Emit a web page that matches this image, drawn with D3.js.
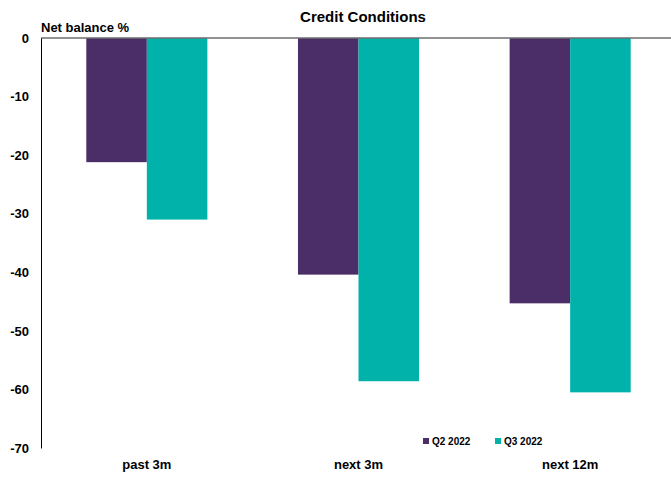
<!DOCTYPE html>
<html><head><meta charset="utf-8">
<script src="https://cdn.jsdelivr.net/npm/d3@7"></script>
<style>body{margin:0;background:#fff}svg{display:block;font-family:"Liberation Sans",Arial,sans-serif}</style>
</head><body><svg id="c" width="671" height="477"></svg>
<script>
const categories = ["past 3m", "next 3m", "next 12m"];
const seriesNames = ["Q2 2022", "Q3 2022"];
const q2Values = [-21.2, -40.4, -45.3];
const q3Values = [-31.0, -58.6, -60.5];
const yTicks = [0, -10, -20, -30, -40, -50, -60, -70];
const colors = ["#4B2E67", "#00B2AA"];

const svg = d3.select("#c");
const x0 = d3.scaleBand().domain(categories).range([41, 676]).paddingInner(0).paddingOuter(0);
const x1 = d3.scaleBand().domain(seriesNames).range([x0.bandwidth()*0.214, x0.bandwidth()*0.786]).padding(0);
const y = d3.scaleLinear().domain([-70, 0]).range([448, 38]);

const data = categories.map((c, i) => ({cat: c, vals: [q2Values[i], q3Values[i]]}));

const g = svg.append("g");
g.selectAll("g.grp").data(data).join("g").attr("class","grp")
  .attr("transform", d => `translate(${x0(d.cat)},0)`)
  .selectAll("rect").data(d => d.vals.map((v, j) => ({s: seriesNames[j], v, j})))
  .join("rect")
  .attr("x", d => x1(d.s)).attr("width", x1.bandwidth())
  .attr("y", y(0)).attr("height", d => y(d.v) - y(0))
  .attr("fill", d => colors[d.j]);

// zero line
svg.append("line").attr("x1", 41).attr("x2", 671).attr("y1", y(0)).attr("y2", y(0))
  .attr("stroke", "#6e6e6e").attr("stroke-width", 1.5);

// y axis
const yAxis = d3.axisLeft(y).tickValues(yTicks).tickSize(0).tickPadding(12).tickFormat(d => String(d));
const ya = svg.append("g").attr("transform", "translate(41,0)").call(yAxis);
ya.select(".domain").attr("stroke", "#000").attr("stroke-width", 1);
ya.selectAll("text").attr("font-size", 13).attr("font-weight", "bold").attr("fill", "#000")
  .attr("font-family", "Liberation Sans, Arial, sans-serif");

// x axis labels
const xAxis = d3.axisBottom(x0).tickSize(0).tickPadding(12);
const xa = svg.append("g").attr("transform", "translate(0,448)").call(xAxis);
xa.select(".domain").remove();
xa.selectAll("text").attr("font-size", 13).attr("font-weight", "bold").attr("fill", "#000")
  .attr("font-family", "Liberation Sans, Arial, sans-serif");

// title
svg.append("text").attr("x", 363).attr("y", 22).attr("text-anchor", "middle")
  .attr("font-size", 15).attr("font-weight", "bold").text("Credit Conditions");
svg.append("text").attr("x", 41).attr("y", 32)
  .attr("font-size", 13).attr("font-weight", "bold").text("Net balance %");

// legend
const legX = [423, 495];
const leg = svg.append("g").selectAll("g").data(seriesNames).join("g")
  .attr("transform", (d, i) => `translate(${legX[i]},438)`);
leg.append("rect").attr("width", 6).attr("height", 6).attr("fill", (d, i) => colors[i]);
leg.append("text").attr("x", 9).attr("y", 7).attr("font-size", 10).attr("font-weight", "bold").text(d => d);
</script></body></html>
